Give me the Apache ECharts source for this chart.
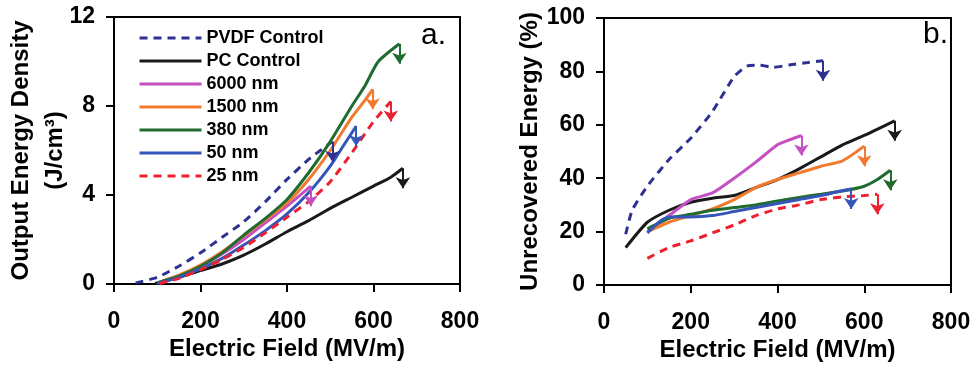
<!DOCTYPE html>
<html><head><meta charset="utf-8">
<script src="https://cdn.jsdelivr.net/npm/echarts/dist/echarts.min.js"></script>
<style>html,body{margin:0;padding:0;background:#fff}#c{width:971px;height:365px}</style>
</head><body><div id="c"></div>
<script>
// ---- data (Electric Field MV/m, value) ----
const seriesNames = ['PVDF Control','PC Control','6000 nm','1500 nm','380 nm','50 nm','25 nm'];
const seriesColors = ['#2e3192','#1a1a1a','#c450c4','#f27a2e','#1f6b30','#3556b8','#ee2030'];
const seriesDashed = [true,false,false,false,false,false,true];

// panel a: Output Energy Density (J/cm3)
const pvdfOut   = [[50,0.05],[100,0.3],[150,0.8],[200,1.4],[250,2.1],[300,2.8],[350,3.7],[400,4.7],[450,5.6],[505,6.4]];
const pcOut     = [[95,0.03],[150,0.3],[200,0.6],[250,0.9],[300,1.3],[350,1.8],[400,2.35],[450,2.85],[500,3.4],[550,3.9],[600,4.4],[640,4.8],[668,5.2]];
const nm6000Out = [[100,0.05],[150,0.35],[200,0.8],[250,1.35],[300,2.0],[350,2.75],[400,3.5],[455,4.4]];
const nm1500Out = [[100,0.05],[150,0.4],[200,0.85],[250,1.45],[300,2.15],[350,2.9],[400,3.65],[450,4.7],[500,6.0],[550,7.5],[580,8.25],[598,8.75]];
const nm380Out  = [[100,0.05],[150,0.35],[200,0.8],[250,1.4],[300,2.2],[350,2.95],[400,3.8],[450,5.0],[500,6.4],[550,8.0],[580,8.9],[611,10.0],[660,10.8]];
const nm50Out   = [[100,0.03],[150,0.3],[200,0.68],[250,1.15],[300,1.75],[350,2.4],[400,3.15],[450,4.1],[500,5.3],[530,6.2],[560,7.1]];
const nm25Out   = [[105,0.02],[150,0.25],[200,0.65],[250,1.1],[300,1.65],[350,2.3],[400,3.0],[450,3.7],[500,4.6],[550,5.9],[600,7.3],[640,8.2]];

// panel b: Unrecovered Energy (%)
const pvdfUnrec   = [[50,19],[65,28],[100,37],[150,47],[200,55],[250,65],[300,78],[330,82],[360,82.3],[390,81.5],[430,82.5],[470,83.3],[505,84]];
const pcUnrec     = [[50,14],[100,23.5],[150,28],[200,31],[250,32.5],[300,33.5],[350,36.5],[400,39.5],[450,43.5],[500,48],[550,52.5],[600,56],[670,61.5]];
const nm6000Unrec = [[100,20],[150,26],[200,32],[250,34.5],[300,40],[350,46],[400,52.5],[430,54.5],[455,56]];
const nm1500Unrec = [[100,20],[150,23.5],[200,26],[250,28.5],[300,32],[350,36.5],[400,39.5],[450,42],[500,44.5],[550,46.5],[600,52]];
const nm380Unrec  = [[100,21],[150,25],[200,26.5],[250,28],[300,29],[350,30],[400,31.5],[450,32.8],[500,34],[550,35.2],[600,37],[630,39.5],[660,43]];
const nm50Unrec   = [[100,19.5],[130,24],[150,25.5],[200,25.5],[250,26],[300,27.5],[350,29],[400,30.5],[450,32],[500,33.5],[540,35],[570,36]];
const nm25Unrec   = [[100,10],[150,14],[200,16.5],[250,19.5],[300,22.5],[350,26],[400,28.5],[450,30],[500,32],[550,33],[600,33.5],[630,34]];

const outData   = [pvdfOut,pcOut,nm6000Out,nm1500Out,nm380Out,nm50Out,nm25Out];
const unrecData = [pvdfUnrec,pcUnrec,nm6000Unrec,nm1500Unrec,nm380Unrec,nm50Unrec,nm25Unrec];

// ---- chart ----
const FONT = '"Liberation Sans", Arial, sans-serif';
const arrowDrop = [0.9, 7.5];

function mk(i, data, panel) {
  const color = seriesColors[i];
  const last = data[data.length - 1];
  return {
    name: seriesNames[i], type: 'line', xAxisIndex: panel, yAxisIndex: panel,
    data: data, symbol: 'none', smooth: 0.2, animation: false,
    lineStyle: { color: color, width: 3, type: seriesDashed[i] ? [8, 6] : 'solid' },
    itemStyle: { color: color },
    emphasis: { disabled: true },
    markLine: {
      silent: true, animation: false, symbol: ['none', 'arrow'], symbolSize: 11,
      label: { show: false },
      lineStyle: { color: color, width: 2, type: 'solid' },
      data: [[{ coord: [last[0], last[1]] }, { coord: [last[0], last[1] - arrowDrop[panel]] }]]
    }
  };
}

function xAx(grid) {
  return {
    gridIndex: grid, type: 'value', min: 0, max: 800, interval: 200,
    name: 'Electric Field (MV/m)', nameLocation: 'middle', nameGap: 53, nameMoveOverlap: false,
    nameTextStyle: { fontFamily: FONT, fontWeight: 'bold', fontSize: 24, color: '#000' },
    axisLine: { onZero: false, lineStyle: { color: '#000', width: 2 } },
    axisTick: { length: 8, lineStyle: { color: '#000', width: 2 } },
    axisLabel: { margin: 26, fontFamily: FONT, fontWeight: 'bold', fontSize: 23, color: '#000' },
    splitLine: { show: false }
  };
}
function yAx(grid, max, interval, name, gap, lh) {
  return {
    gridIndex: grid, type: 'value', min: 0, max: max, interval: interval,
    name: name, nameLocation: 'middle', nameGap: gap, nameRotate: 90, nameMoveOverlap: false,
    nameTextStyle: { fontFamily: FONT, fontWeight: 'bold', fontSize: 24, color: '#000', lineHeight: lh },
    axisLine: { onZero: false, lineStyle: { color: '#000', width: 2 } },
    axisTick: { length: 8, lineStyle: { color: '#000', width: 2 } },
    axisLabel: { margin: 19, fontFamily: FONT, fontWeight: 'bold', fontSize: 23, color: '#000' },
    splitLine: { show: false }
  };
}

const series = [];
outData.forEach((d, i) => series.push(mk(i, d, 0)));
unrecData.forEach((d, i) => series.push(mk(i, d, 1)));

const chart = echarts.init(document.getElementById('c'), null, { renderer: 'canvas' });
chart.setOption({
  backgroundColor: '#fff',
  animation: false,
  grid: [
    { left: 114, top: 17, right: 511, bottom: 81, show: true, borderColor: '#000', borderWidth: 2, outerBoundsMode: 'none', containLabel: false },
    { left: 604, top: 18, right: 20, bottom: 80, show: true, borderColor: '#000', borderWidth: 2, outerBoundsMode: 'none', containLabel: false }
  ],
  xAxis: [xAx(0), xAx(1)],
  yAxis: [
    yAx(0, 12, 4, 'Output Energy Density\n(J/cm³)', 42, 34),
    yAx(1, 100, 20, 'Unrecovered Energy (%)', 62, 24)
  ],
  legend: {
    orient: 'vertical', left: 133, top: 24, itemWidth: 62, itemHeight: 14, itemGap: 5,
    data: seriesNames, selectedMode: false,
    itemStyle: { opacity: 0, color: 'transparent', borderWidth: 0 },
    lineStyle: { width: 3 },
    textStyle: { fontFamily: FONT, fontWeight: 'bold', fontSize: 18, color: '#000', lineHeight: 18 }
  },
  graphic: [
    { type: 'text', left: 421, top: 21, style: { text: 'a.', font: '30px ' + FONT, fill: '#000' } },
    { type: 'text', left: 923, top: 20, style: { text: 'b.', font: '30px ' + FONT, fill: '#000' } }
  ],
  series: series
});
</script>
</body></html>
